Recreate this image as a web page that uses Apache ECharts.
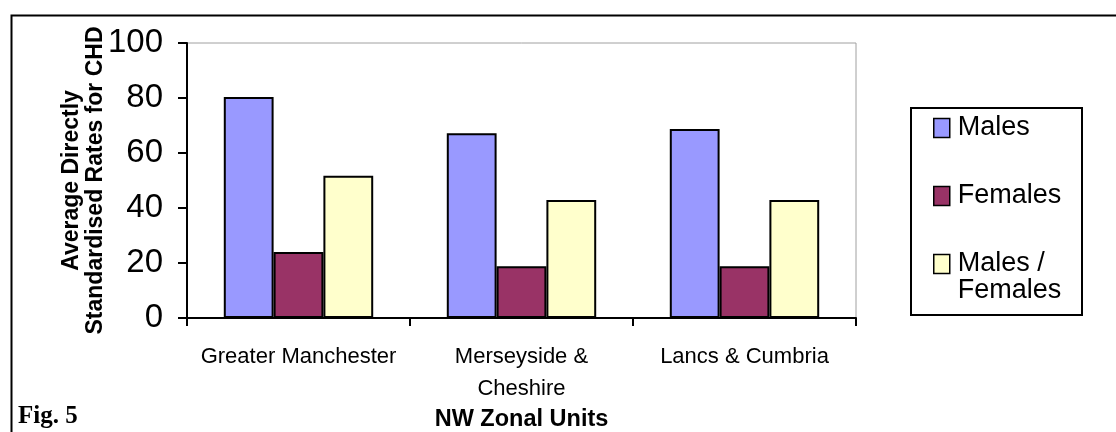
<!DOCTYPE html>
<html>
<head>
<meta charset="utf-8">
<script src="https://cdn.jsdelivr.net/npm/echarts@6/dist/echarts.min.js"></script>
<style>
  html, body { margin: 0; padding: 0; background: #fff; }
  #chart { width: 1116px; height: 432px; }
</style>
</head>
<body>
<div id="chart"></div>
<script>
const categories = ['Greater Manchester', 'Merseyside &\nCheshire', 'Lancs & Cumbria'];
const males = [80.4, 67.2, 68.7];
const females = [24.0, 18.8, 18.8];
const malesOverFemales = [51.7, 42.9, 42.9];
const yTicks = [0, 20, 40, 60, 80, 100];
const seriesNames = ['Males', 'Females', 'Males / Females'];

const FONT = '"Liberation Sans", Arial, sans-serif';
const chart = echarts.init(document.getElementById('chart'));

function barSeries(name, data, color) {
  return {
    name: name, type: 'bar', data: data,
    barGap: '0%', barCategoryGap: '33%',
    itemStyle: { color: color, borderColor: '#000', borderWidth: 2 },
    emphasis: { disabled: true },
    animation: false
  };
}

chart.setOption({
  animation: false,
  backgroundColor: '#fff',
  grid: { left: 187, right: 260, top: 43, bottom: 114, show: true, borderColor: '#a0a0a0', borderWidth: 1,
    containLabel: false, outerBoundsMode: 'none' },
  legend: {
    orient: 'vertical', left: 933, top: 87.5, padding: 0, itemGap: 14,
    itemWidth: 16, itemHeight: 19, icon: 'rect',
    itemStyle: { borderColor: '#000', borderWidth: 1.5 },
    data: seriesNames,
    formatter: function (name) {
      if (name === seriesNames[0]) return '{a| }\n{a|Males}\n{a| }';
      if (name === seriesNames[1]) return '{a|Females}';
      return '{a| }\n{a|Males /}\n{a|Females}';
    },
    textStyle: {
      color: '#000', fontFamily: FONT, fontSize: 27,
      rich: {
        a: { fontSize: 27, lineHeight: 27, color: '#000', fontFamily: FONT, padding: [0, 0, 0, 3] }
      }
    }
  },
  xAxis: {
    type: 'category', data: categories,
    name: 'NW Zonal Units', nameLocation: 'middle', nameGap: 90, nameMoveOverlap: false,
    nameTextStyle: { fontFamily: FONT, fontSize: 23.5, fontWeight: 'bold', color: '#000' },
    axisLine: { lineStyle: { color: '#000', width: 2 } },
    axisTick: { show: true, length: 8, lineStyle: { color: '#000', width: 2 } },
    axisLabel: { interval: 0, color: '#000', fontFamily: FONT, fontSize: 22, margin: 23, lineHeight: 32 },
    splitLine: { show: false }
  },
  yAxis: {
    type: 'value', min: 0, max: 100, interval: 20,
    name: 'Average Directly\nStandardised Rates for CHD', nameLocation: 'middle', nameGap: 79, nameRotate: 90,
    nameMoveOverlap: false,
    nameTextStyle: { fontFamily: FONT, fontSize: 23, fontWeight: 'bold', color: '#000', lineHeight: 24 },
    axisLine: { show: true, lineStyle: { color: '#000', width: 2 } },
    axisTick: { show: true, length: 9, lineStyle: { color: '#000', width: 2 } },
    axisLabel: { color: '#000', fontFamily: FONT, fontSize: 33, margin: 24,
      formatter: function (v) { return yTicks.indexOf(v) >= 0 ? String(v) : ''; } },
    splitLine: { show: false }
  },
  series: [
    barSeries(seriesNames[0], males, '#9999FF'),
    barSeries(seriesNames[1], females, '#993366'),
    barSeries(seriesNames[2], malesOverFemales, '#FFFFCC')
  ],
  graphic: [
    { type: 'rect', left: 9, top: 13, shape: { x: 0, y: 0, width: 1200, height: 500 },
      style: { fill: 'none', stroke: '#000', lineWidth: 2 }, silent: true },
    { type: 'rect', x: 911, y: 108, shape: { x: 0, y: 0, width: 171, height: 207 },
      style: { fill: 'none', stroke: '#000', lineWidth: 2 }, silent: true },
    { type: 'text', x: 18, y: 417,
      style: { text: 'Fig. 5', fontFamily: '"Liberation Serif", "Times New Roman", serif', fontSize: 25, fontWeight: 'bold', fill: '#000', verticalAlign: 'middle' }, silent: true }
  ]
});
</script>
</body>
</html>
